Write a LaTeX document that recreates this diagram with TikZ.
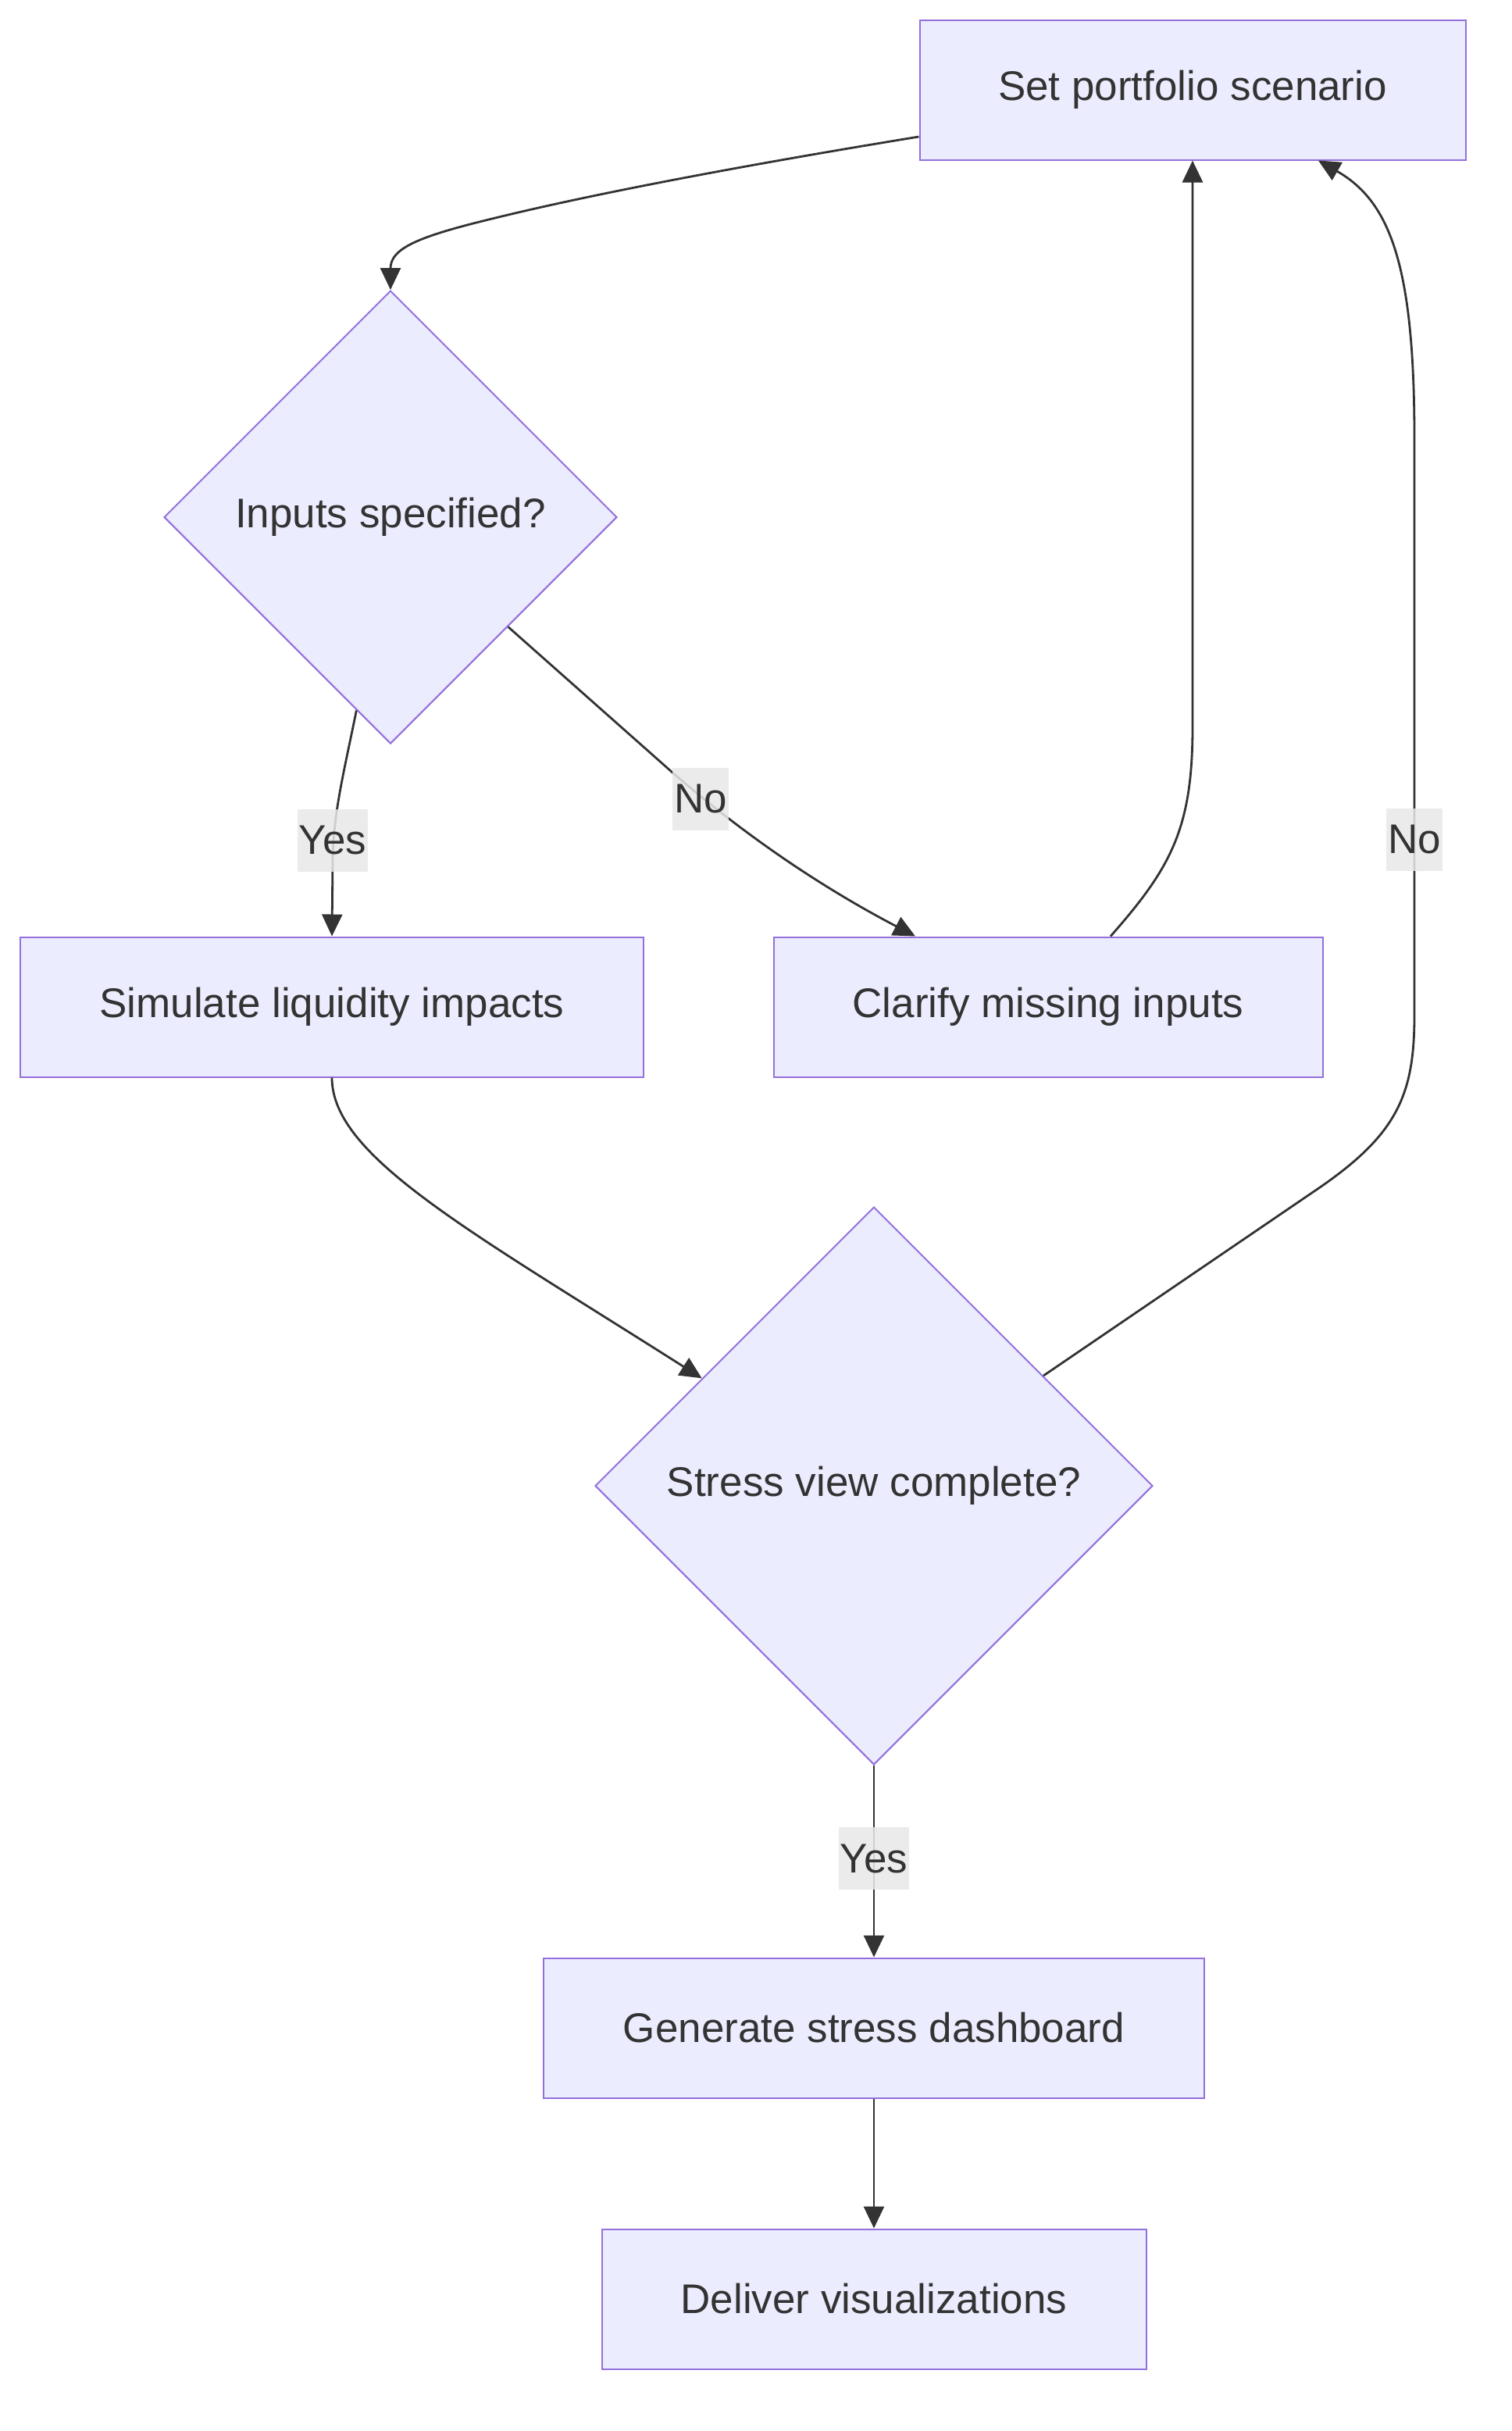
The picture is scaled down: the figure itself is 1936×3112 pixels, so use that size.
\documentclass[tikz,border=0pt]{standalone}
\usepackage{fontspec}
\setmainfont{Liberation Sans}
\usetikzlibrary{shapes.geometric,arrows.meta,calc}
\definecolor{nodefill}{HTML}{ECECFF}
\definecolor{nodeborder}{HTML}{9370DB}
\definecolor{txt}{HTML}{333333}
\definecolor{lblbg}{HTML}{E8E8E8}
\begin{document}
\begin{tikzpicture}[x=0.5pt,y=-0.5pt,
  font=\fontsize{26.5pt}{32pt}\selectfont,
  box/.style={draw=nodeborder,fill=nodefill,line width=1pt,text=txt,minimum height=89.5pt,inner sep=0pt},
  decision/.style={diamond,aspect=1,draw=nodeborder,fill=nodefill,line width=1pt,text=txt,inner sep=0pt},
  edge/.style={draw=txt,line width=1.4pt,-{Triangle[length=14pt,width=13pt]}},
  lbl/.style={fill=lblbg,fill opacity=0.85,text opacity=1,text=txt,inner xsep=1pt,inner ysep=0pt,minimum height=40pt}]
\useasboundingbox (0,0) rectangle (1936,3112);

\node[box,minimum width=349.5pt] (A) at (1527,115) {Set portfolio scenario};
\node[decision,minimum width=290pt,minimum height=290pt] (B) at (500,662) {Inputs specified?};
\node[box,minimum width=399pt] (C) at (425,1289) {Simulate liquidity impacts};
\node[box,minimum width=351.5pt] (D) at (1342,1289) {Clarify missing inputs};
\node[decision,minimum width=357pt,minimum height=357pt] (E) at (1119,1902) {Stress view complete?};
\node[box,minimum width=423pt] (F) at (1119,2596) {Generate stress dashboard};
\node[box,minimum width=348.5pt] (G) at (1119,2943) {Deliver visualizations};

\draw[edge] ($(A.west)+(0,60)$) .. controls (950,212) and (760,248) .. (630,280) .. controls (535,303) and (500,318) .. (B.north);
\draw[edge] (B.260) .. controls (440,990) and (427,1040) .. (426,1100) -- (C.north);
\draw[edge] (B.-43) -- (860,988) .. controls (960,1075) and (1060,1140) .. ($(D.north)+(-170,0)$);
\draw[edge] (C.south) .. controls (425,1480) and (599,1574) .. (E.148);
\draw[edge] ($(D.north)+(80,0)$) .. controls (1500,1110) and (1527,1060) .. (1527,930) -- (A.south);
\draw[edge] (E.33) -- (1690,1520) .. controls (1790,1451) and (1811,1400) .. (1811,1300) -- (1811,560) .. controls (1811,340) and (1780,258) .. ($(A.south)+(161,0)$);
\draw[edge] (E.south) -- (F.north);
\draw[edge] (F.south) -- (G.north);

\node[lbl] (l1) at (426,1076) {Yes};
\node[lbl] (l2) at (897,1023) {No};
\node[lbl] (l3) at (1811,1075) {No};
\node[lbl] (l4) at (1119,2379) {Yes};
\end{tikzpicture}
\end{document}
